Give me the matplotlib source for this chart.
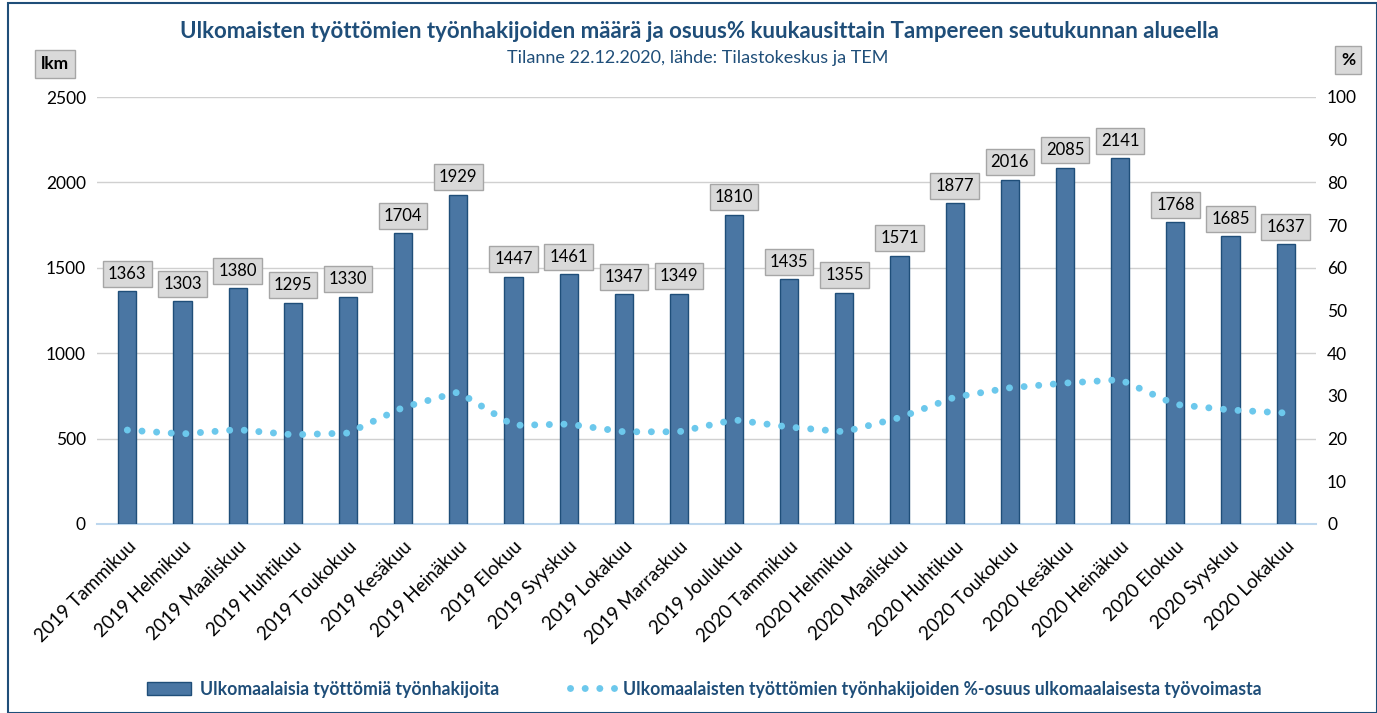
import matplotlib.pyplot as plt
import matplotlib.patches as mpatches
from matplotlib.lines import Line2D
import numpy as np

plt.rcParams['font.family'] = ['Lato', 'DejaVu Sans']

kuukaudet = ['2019 Tammikuu', '2019 Helmikuu', '2019 Maaliskuu', '2019 Huhtikuu',
             '2019 Toukokuu', '2019 Kesäkuu', '2019 Heinäkuu', '2019 Elokuu',
             '2019 Syyskuu', '2019 Lokakuu', '2019 Marraskuu', '2019 Joulukuu',
             '2020 Tammikuu', '2020 Helmikuu', '2020 Maaliskuu', '2020 Huhtikuu',
             '2020 Toukokuu', '2020 Kesäkuu', '2020 Heinäkuu', '2020 Elokuu',
             '2020 Syyskuu', '2020 Lokakuu']
lkm = [1363, 1303, 1380, 1295, 1330, 1704, 1929, 1447, 1461, 1347, 1349, 1810,
       1435, 1355, 1571, 1877, 2016, 2085, 2141, 1768, 1685, 1637]
osuus = [22.0, 21.1, 22.1, 20.9, 21.3, 27.3, 30.9, 23.1, 23.4, 21.6, 21.6, 24.4,
         22.7, 21.6, 24.9, 29.7, 31.9, 33.0, 33.8, 28.0, 26.7, 26.0]

tummansininen = '#1f4e79'
palkki = '#4a76a3'
piste = '#6cc8ec'
pisteviiva = (0, (0.01, 2.1))

fig = plt.figure(figsize=(13.77, 7.13), dpi=100)
ax = fig.add_axes([97 / 1377, 1 - 524 / 713, (1316 - 97) / 1377, (524 - 97) / 713])
ax2 = ax.twinx()

x = np.arange(len(kuukaudet))
ax.bar(x, lkm, width=0.33, color=palkki, edgecolor=tummansininen, linewidth=1, zorder=3)
for xi, v in zip(x, lkm):
    ax.text(xi, v + 55, str(v), ha='center', va='bottom', fontsize=12,
            bbox=dict(boxstyle='square,pad=0.3', fc='#d9d9d9', ec='#a6a6a6', lw=1), zorder=5)

ax2.plot(x, osuus, linestyle=pisteviiva, dash_capstyle='round', color=piste,
         linewidth=5, zorder=4)

ax.set_ylim(0, 2500)
ax.set_yticks(range(0, 2501, 500))
ax2.set_ylim(0, 100)
ax2.set_yticks(range(0, 101, 10))
ax.set_xlim(-0.55, len(x) - 0.45)

ax.grid(axis='y', color='#d0d0d0', linewidth=1, zorder=0)
ax.set_axisbelow(True)
for a in (ax, ax2):
    for s in a.spines.values():
        s.set_visible(False)
    a.tick_params(length=0, labelsize=12.5, pad=8)
ax.spines['bottom'].set_visible(True)
ax.spines['bottom'].set_color('#bdd7ee')
ax.spines['bottom'].set_linewidth(1.5)

ax.set_xticks(x)
ax.set_xticklabels(kuukaudet, rotation=45, ha='right', rotation_mode='anchor', fontsize=13.5)
ax.tick_params(axis='x', pad=10)

fig.text(699 / 1377, 1 - 31 / 713, 'Ulkomaisten työttömien työnhakijoiden määrä ja osuus% kuukausittain Tampereen seutukunnan alueella',
         ha='center', va='center', fontsize=16, fontweight='bold', color=tummansininen)
fig.text(698 / 1377, 1 - 58 / 713, 'Tilanne 22.12.2020, lähde: Tilastokeskus ja TEM',
         ha='center', va='center', fontsize=13, color=tummansininen)

fig.text(55 / 1377, 1 - 64 / 713, 'lkm', ha='center', va='center', fontsize=12.5, fontweight='bold',
         bbox=dict(boxstyle='square,pad=0.35', fc='#d9d9d9', ec='#a6a6a6', lw=1))
fig.text(1348 / 1377, 1 - 60 / 713, '%', ha='center', va='center', fontsize=12.5, fontweight='bold',
         bbox=dict(boxstyle='square,pad=0.35', fc='#d9d9d9', ec='#a6a6a6', lw=1))

kahvat = [mpatches.Patch(facecolor=palkki, edgecolor=tummansininen),
          Line2D([0], [0], linestyle=pisteviiva, dash_capstyle='round', color=piste, linewidth=5)]
nimet = ['Ulkomaalaisia työttömiä työnhakijoita',
         'Ulkomaalaisten työttömien työnhakijoiden %-osuus ulkomaalaisesta työvoimasta']
leg = fig.legend(kahvat, nimet, loc='center', bbox_to_anchor=(704 / 1377, 1 - 689 / 713), ncol=2,
                 frameon=False, fontsize=12.7, handlelength=2.5, handleheight=0.7,
                 columnspacing=4, handletextpad=0.5)
for t in leg.get_texts():
    t.set_color(tummansininen)
    t.set_fontweight('bold')

fig.patches.append(mpatches.Rectangle((8 / 1377, 0), 1 - 8 / 1377, 1 - 3 / 713, transform=fig.transFigure,
                                      fill=False, edgecolor=tummansininen, linewidth=1.5))

fig.savefig('out.png', dpi=100)
